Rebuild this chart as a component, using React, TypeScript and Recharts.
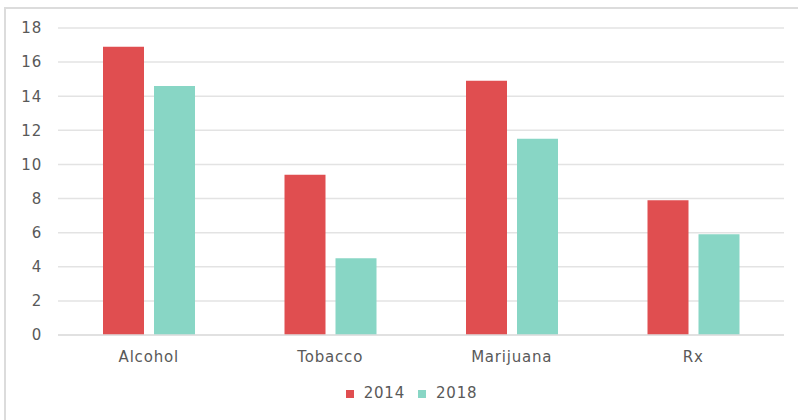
import { Bar, BarChart, CartesianGrid, Legend, XAxis, YAxis } from "recharts";

const categories = ["Alcohol", "Tobacco", "Marijuana", "Rx"];
const values2014 = [16.9, 9.4, 14.9, 7.9];
const values2018 = [14.6, 4.5, 11.5, 5.9];
const yTicks = [0, 2, 4, 6, 8, 10, 12, 14, 16, 18];

const data = categories.map((name, i) => ({
  name,
  y2014: values2014[i],
  y2018: values2018[i],
}));

const font = "'DejaVu Sans', 'Open Sans', sans-serif";
const textColor = "#595959";

export default function App() {
  return (
    <div style={{ position: "fixed", left: 0, top: 0, width: 798, height: 420, background: "#fff", overflow: "hidden" }}>
      <div
        style={{
          position: "absolute",
          left: 4,
          top: 7,
          width: 820,
          height: 440,
          borderLeft: "2px solid #dcdcdc",
          borderTop: "2px solid #dcdcdc",
        }}
      />
      <div style={{ position: "absolute", left: 0, top: 0 }}>
        <BarChart
          width={798}
          height={420}
          data={data}
          margin={{ top: 28, right: 14, bottom: 37, left: 0 }}
          barGap={10}
          style={{ fontFamily: font, letterSpacing: 0.8 }}
        >
          <CartesianGrid vertical={false} stroke="#e3e3e3" strokeWidth={1.5} />
          <XAxis
            dataKey="name"
            axisLine={{ stroke: "#dedede", strokeWidth: 1.5 }}
            tickLine={false}
            tick={{ fill: textColor, fontSize: 15 }}
            tickMargin={10}
          />
          <YAxis
            width={58}
            domain={[0, 18]}
            ticks={yTicks}
            axisLine={false}
            tickLine={false}
            tick={{ fill: textColor, fontSize: 15 }}
            tickMargin={10}
          />
          <Legend
            verticalAlign="bottom"
            iconType="square"
            iconSize={8}
            wrapperStyle={{ bottom: 18, left: 26, fontSize: 15 }}
            formatter={(v) => <span style={{ color: textColor, marginLeft: 6, marginRight: 3 }}>{v}</span>}
          />
          <Bar dataKey="y2014" name="2014" fill="#e04e50" barSize={41} isAnimationActive={false} />
          <Bar dataKey="y2018" name="2018" fill="#88d6c5" barSize={41} isAnimationActive={false} />
        </BarChart>
      </div>
    </div>
  );
}
